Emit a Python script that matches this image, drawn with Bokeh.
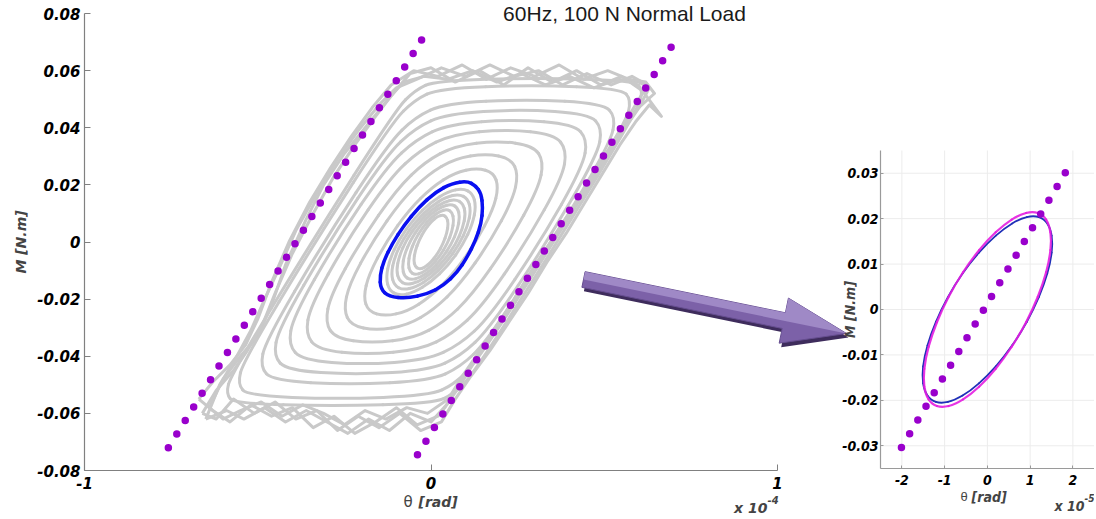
import math
from bokeh.plotting import figure
from bokeh.models import Range1d, FixedTicker, Label, LinearAxis
from bokeh.embed import file_html
from bokeh.resources import INLINE

# ---------------- data (main plot: theta in units of 1e-4 rad, M in N.m) ----------------
main_xticks = [-1, 0, 1]
main_xlabels = ["-1", "0", "1"]
main_yticks = [-0.08, -0.06, -0.04, -0.02, 0.0, 0.02, 0.04, 0.06, 0.08]
main_ylabels = ["-0.08", "-0.06", "-0.04", "-0.02", "0", "0.02", "0.04", "0.06", "0.08"]

loop01_x = [0.050, 0.046, 0.035, 0.019, 0.000, -0.019, -0.035, -0.046, -0.050, -0.046, -0.035, -0.019, 0.000, 0.019, 0.035, 0.046, 0.050]
loop01_y = [0.0064, 0.0086, 0.0095, 0.0090, 0.0071, 0.0041, 0.0005, -0.0032, -0.0064, -0.0086, -0.0095, -0.0090, -0.0071, -0.0041, -0.0005, 0.0032, 0.0064]
loop02_x = [0.066, 0.061, 0.047, 0.025, 0.000, -0.025, -0.047, -0.061, -0.066, -0.061, -0.047, -0.025, 0.000, 0.025, 0.047, 0.061, 0.066]
loop02_y = [0.0077, 0.0104, 0.0115, 0.0108, 0.0085, 0.0050, 0.0006, -0.0038, -0.0077, -0.0104, -0.0115, -0.0108, -0.0085, -0.0050, -0.0006, 0.0038, 0.0077]
loop03_x = [0.083, 0.077, 0.059, 0.032, 0.000, -0.032, -0.059, -0.077, -0.083, -0.077, -0.059, -0.032, 0.000, 0.032, 0.059, 0.077, 0.083]
loop03_y = [0.0089, 0.0120, 0.0133, 0.0125, 0.0099, 0.0057, 0.0007, -0.0044, -0.0089, -0.0120, -0.0133, -0.0125, -0.0099, -0.0057, -0.0007, 0.0044, 0.0089]
loop04_x = [0.100, 0.092, 0.071, 0.038, 0.000, -0.038, -0.071, -0.092, -0.100, -0.092, -0.071, -0.038, 0.000, 0.038, 0.071, 0.092, 0.100]
loop04_y = [0.0100, 0.0135, 0.0150, 0.0141, 0.0111, 0.0065, 0.0008, -0.0050, -0.0100, -0.0135, -0.0150, -0.0141, -0.0111, -0.0065, -0.0008, 0.0050, 0.0100]
loop05_x = [0.115, 0.106, 0.081, 0.044, 0.000, -0.044, -0.081, -0.106, -0.115, -0.106, -0.081, -0.044, 0.000, 0.044, 0.081, 0.106, 0.115]
loop05_y = [0.0112, 0.0152, 0.0168, 0.0158, 0.0125, 0.0072, 0.0009, -0.0056, -0.0112, -0.0152, -0.0168, -0.0158, -0.0125, -0.0072, -0.0009, 0.0056, 0.0112]
loop06_x = [0.130, 0.120, 0.092, 0.050, 0.000, -0.050, -0.092, -0.120, -0.130, -0.120, -0.092, -0.050, 0.000, 0.050, 0.092, 0.120, 0.130]
loop06_y = [0.0126, 0.0170, 0.0188, 0.0177, 0.0140, 0.0081, 0.0010, -0.0063, -0.0126, -0.0170, -0.0188, -0.0177, -0.0140, -0.0081, -0.0010, 0.0063, 0.0126]
loop07_x = [0.130, 0.1793, 0.1949, 0.1809, 0.1333, 0.0681, 0.0025, -0.0635, -0.130, -0.1793, -0.1949, -0.1809, -0.1333, -0.0681, -0.0025, 0.0635, 0.130]
loop07_y = [0.0, 0.0113, 0.0192, 0.0243, 0.0260, 0.0243, 0.0192, 0.0113, 0.0, -0.0113, -0.0192, -0.0243, -0.0260, -0.0243, -0.0192, -0.0113, 0.0]
loop08_x = [0.170, 0.2360, 0.2520, 0.2309, 0.159, 0.0683, -0.0084, -0.0840, -0.170, -0.2360, -0.2520, -0.2309, -0.159, -0.0683, 0.0084, 0.0840, 0.170]
loop08_y = [0.0, 0.0148, 0.0237, 0.0292, 0.0310, 0.0292, 0.0237, 0.0148, 0.0, -0.0148, -0.0237, -0.0292, -0.0310, -0.0292, -0.0237, -0.0148, 0.0]
loop09_x = [0.225, 0.3100, 0.3253, 0.2961, 0.1921, 0.0695, -0.0161, -0.0980, -0.205, -0.2900, -0.3053, -0.2761, -0.1721, -0.0495, 0.0361, 0.1180, 0.225]
loop09_y = [0.0, 0.0187, 0.0282, 0.0337, 0.0355, 0.0337, 0.0282, 0.0187, 0.0, -0.0187, -0.0282, -0.0337, -0.0355, -0.0337, -0.0282, -0.0187, 0.0]
loop10_x = [0.275, 0.3786, 0.3920, 0.3564, 0.2176, 0.0606, -0.0318, -0.1180, -0.245, -0.3486, -0.3620, -0.3264, -0.1876, -0.0306, 0.0618, 0.1480, 0.275]
loop10_y = [0.0, 0.0225, 0.0322, 0.0377, 0.0395, 0.0377, 0.0322, 0.0225, 0.0, -0.0225, -0.0322, -0.0377, -0.0395, -0.0377, -0.0322, -0.0225, 0.0]
loop11_x = [0.315, 0.4379, 0.4515, 0.4119, 0.2405, 0.0515, -0.0423, -0.1285, -0.275, -0.3979, -0.4115, -0.3719, -0.2005, -0.0115, 0.0823, 0.1685, 0.315]
loop11_y = [0.0, 0.0263, 0.0360, 0.0413, 0.0430, 0.0413, 0.0360, 0.0263, 0.0, -0.0263, -0.0360, -0.0413, -0.0430, -0.0413, -0.0360, -0.0263, 0.0]
loop12_x = [0.335, 0.4800, 0.4944, 0.4561, 0.2585, 0.0447, -0.0456, -0.1286, -0.295, -0.4400, -0.4544, -0.4161, -0.2185, -0.0047, 0.0856, 0.1686, 0.335]
loop12_y = [0.0, 0.0304, 0.0399, 0.0449, 0.0465, 0.0449, 0.0399, 0.0304, 0.0, -0.0304, -0.0399, -0.0449, -0.0465, -0.0449, -0.0399, -0.0304, 0.0]
loop13_x = [0.350, 0.5173, 0.5332, 0.4967, 0.2764, 0.0407, -0.0444, -0.1229, -0.310, -0.4773, -0.4932, -0.4567, -0.2364, -0.0007, 0.0844, 0.1629, 0.350]
loop13_y = [0.0, 0.0346, 0.0438, 0.0485, 0.0500, 0.0485, 0.0438, 0.0346, 0.0, -0.0346, -0.0438, -0.0485, -0.0500, -0.0485, -0.0438, -0.0346, 0.0]
loop14_x = [0.355, 0.5618, 0.5782, 0.5481, 0.2921, 0.0237, -0.0470, -0.1130, -0.335, -0.5418, -0.5582, -0.5281, -0.2721, -0.0037, 0.0670, 0.1330, 0.355]
loop14_y = [0.0, 0.0418, 0.0498, 0.0538, 0.0550, 0.0538, 0.0498, 0.0418, 0.0, -0.0418, -0.0498, -0.0538, -0.0550, -0.0538, -0.0498, -0.0418, 0.0]
loop15_x = [0.365, 0.5973, 0.6118, 0.5867, 0.3049, 0.0131, -0.0456, -0.1007, -0.345, -0.5773, -0.5918, -0.5667, -0.2849, 0.0069, 0.0656, 0.1207, 0.365]
loop15_y = [0.0, 0.0465, 0.0532, 0.0565, 0.0575, 0.0565, 0.0532, 0.0465, 0.0, -0.0465, -0.0532, -0.0565, -0.0575, -0.0565, -0.0532, -0.0465, 0.0]
band_a_x = [-0.64, -0.60, -0.55, -0.50, -0.46, -0.42, -0.36, -0.31, -0.25, -0.19, -0.13, -0.08, -0.02, 0.05, 0.12, 0.19, 0.26, 0.33, 0.40, 0.47, 0.54, 0.60, 0.63, 0.60, 0.56, 0.51, 0.46, 0.40, 0.345, 0.29, 0.24, 0.185, 0.13, 0.09, 0.05, -0.01, -0.07, -0.13, -0.19, -0.25, -0.31, -0.37, -0.43, -0.49, -0.55, -0.60, -0.64]
band_a_y = [-0.058, -0.048, -0.040, -0.033, -0.022, -0.008, 0.008, 0.020, 0.031, 0.040, 0.049, 0.056, 0.058, 0.057, 0.060, 0.056, 0.059, 0.055, 0.058, 0.054, 0.057, 0.056, 0.054, 0.047, 0.040, 0.030, 0.020, 0.010, 0.000, -0.010, -0.020, -0.030, -0.040, -0.047, -0.055, -0.060, -0.058, -0.062, -0.059, -0.064, -0.060, -0.057, -0.061, -0.056, -0.059, -0.062, -0.058]
band_b_x = [-0.66, -0.62, -0.57, -0.53, -0.49, -0.45, -0.40, -0.34, -0.28, -0.22, -0.16, -0.11, -0.06, 0.00, 0.07, 0.14, 0.21, 0.28, 0.35, 0.42, 0.49, 0.55, 0.61, 0.665, 0.63, 0.59, 0.545, 0.50, 0.445, 0.39, 0.335, 0.28, 0.225, 0.17, 0.115, 0.07, 0.03, -0.03, -0.09, -0.15, -0.21, -0.27, -0.33, -0.39, -0.45, -0.51, -0.57, -0.62, -0.66]
band_b_y = [-0.060, -0.052, -0.045, -0.038, -0.030, -0.018, -0.004, 0.010, 0.023, 0.034, 0.044, 0.052, 0.059, 0.061, 0.056, 0.060, 0.055, 0.061, 0.056, 0.060, 0.055, 0.058, 0.053, 0.044, 0.048, 0.042, 0.034, 0.025, 0.014, 0.003, -0.007, -0.018, -0.028, -0.038, -0.047, -0.055, -0.063, -0.066, -0.060, -0.065, -0.061, -0.066, -0.059, -0.062, -0.056, -0.060, -0.055, -0.062, -0.060]
band_c_x = [-0.67, -0.63, -0.58, -0.535, -0.50, -0.46, -0.41, -0.35, -0.29, -0.23, -0.17, -0.115, -0.05, 0.02, 0.09, 0.16, 0.23, 0.30, 0.37, 0.44, 0.51, 0.57, 0.62, 0.645, 0.59, 0.545, 0.495, 0.445, 0.39, 0.335, 0.28, 0.225, 0.17, 0.115, 0.075, 0.04, 0.02, -0.04, -0.10, -0.16, -0.22, -0.28, -0.34, -0.40, -0.46, -0.52, -0.58, -0.63, -0.67]
band_c_y = [-0.055, -0.049, -0.043, -0.036, -0.027, -0.014, 0.000, 0.014, 0.026, 0.037, 0.047, 0.055, 0.060, 0.058, 0.062, 0.057, 0.061, 0.058, 0.062, 0.057, 0.060, 0.057, 0.056, 0.052, 0.046, 0.038, 0.028, 0.018, 0.007, -0.003, -0.013, -0.023, -0.033, -0.043, -0.051, -0.058, -0.061, -0.064, -0.058, -0.063, -0.067, -0.061, -0.065, -0.058, -0.061, -0.057, -0.063, -0.059, -0.055]
band_d_x = [-0.65, -0.61, -0.565, -0.52, -0.48, -0.445, -0.39, -0.33, -0.27, -0.21, -0.15, -0.10, -0.04, 0.03, 0.10, 0.17, 0.24, 0.31, 0.38, 0.45, 0.52, 0.58, 0.625, 0.60, 0.565, 0.52, 0.47, 0.415, 0.36, 0.305, 0.25, 0.195, 0.14, 0.085, 0.045, 0.00, -0.06, -0.12, -0.18, -0.24, -0.30, -0.36, -0.42, -0.48, -0.54, -0.59, -0.65]
band_d_y = [-0.062, -0.050, -0.041, -0.031, -0.020, -0.011, 0.004, 0.017, 0.029, 0.039, 0.048, 0.054, 0.057, 0.061, 0.058, 0.062, 0.058, 0.060, 0.055, 0.059, 0.055, 0.058, 0.055, 0.050, 0.043, 0.034, 0.024, 0.013, 0.003, -0.008, -0.018, -0.029, -0.039, -0.050, -0.057, -0.063, -0.060, -0.066, -0.062, -0.067, -0.063, -0.059, -0.063, -0.058, -0.062, -0.059, -0.062]

blue_x = [0.1045, 0.1284, 0.1449, 0.1495, 0.1449, 0.1284, 0.1045, 0.0756, 0.0371, -0.0108, -0.0685, -0.1216, -0.1455, -0.1475, -0.1360, -0.1120, -0.0785, -0.0352, 0.0130, 0.0612, 0.1045]
blue_y = [0.0213, 0.0198, 0.0169, 0.0122, 0.0064, 0.0005, -0.0053, -0.0106, -0.0152, -0.0182, -0.0197, -0.0191, -0.0164, -0.0117, -0.0065, -0.0006, 0.0058, 0.0122, 0.0175, 0.0206, 0.0213]

dots_left_x = [-0.758, -0.025]
dots_left_y = [-0.072, 0.0712]
dots_right_x = [-0.039, 0.695]
dots_right_y = [-0.0745, 0.0686]

# ---------------- data (inset: theta in units of 1e-5 rad) ----------------
inset_xticks = [-2, -1, 0, 1, 2]
inset_xlabels = ["-2", "-1", "0", "1", "2"]
inset_yticks = [-0.03, -0.02, -0.01, 0.0, 0.01, 0.02, 0.03]
inset_ylabels = ["-0.03", "-0.02", "-0.01", "0", "0.01", "0.02", "0.03"]
meas_x = [1.530, 1.478, 1.325, 1.082, 0.765, 0.396, 0.0, -0.396, -0.765, -1.082, -1.325, -1.478, -1.530, -1.478, -1.325, -1.082, -0.765, -0.396, 0.0, 0.396, 0.765, 1.082, 1.325, 1.478, 1.530]
meas_y = [0.0146, 0.0179, 0.0200, 0.0207, 0.0200, 0.0179, 0.0146, 0.0104, 0.0054, 0.0, -0.0054, -0.0104, -0.0146, -0.0179, -0.0200, -0.0207, -0.0200, -0.0179, -0.0146, -0.0104, -0.0054, 0.0, 0.0054, 0.0104, 0.0146]
fit_x = [1.500, 1.449, 1.299, 1.061, 0.750, 0.388, 0.0, -0.388, -0.750, -1.061, -1.299, -1.449, -1.500, -1.449, -1.299, -1.061, -0.750, -0.388, 0.0, 0.388, 0.750, 1.061, 1.299, 1.449, 1.500]
fit_y = [0.0153, 0.0187, 0.0209, 0.0216, 0.0209, 0.0187, 0.0153, 0.0108, 0.0056, 0.0, -0.0056, -0.0108, -0.0153, -0.0187, -0.0209, -0.0216, -0.0209, -0.0187, -0.0153, -0.0108, -0.0056, 0.0, 0.0056, 0.0108, 0.0153]
inset_dots_x = [-2.01, 1.86]
inset_dots_y = [-0.0304, 0.0307]

smooth_loops = [
    (loop01_x, loop01_y), (loop02_x, loop02_y), (loop03_x, loop03_y), (loop04_x, loop04_y),
    (loop05_x, loop05_y), (loop06_x, loop06_y), (loop07_x, loop07_y), (loop08_x, loop08_y),
    (loop09_x, loop09_y), (loop10_x, loop10_y), (loop11_x, loop11_y), (loop12_x, loop12_y),
    (loop13_x, loop13_y), (loop14_x, loop14_y), (loop15_x, loop15_y),
]
band_loops = [(band_a_x, band_a_y), (band_b_x, band_b_y), (band_c_x, band_c_y), (band_d_x, band_d_y)]

# ---------------- styles / layout ----------------
GRAY = "#c9c9c9"
BLUE = "#0a10f0"
PURPLE = "#9900cc"
BOLD_FONT = "DejaVu Sans"
NARROW_FONT = "DejaVu Sans Condensed, Liberation Sans"
W, H = 1094, 517                      # the canvas is the frame; page body has no margin
SX, SY = 346.5, 2856.0                # main plot px per unit
XR0 = -1.0 - 84 / SX
YR0 = -0.08 - (H - 470) / SY
XR = (XR0, XR0 + W / SX)
YR = (YR0, YR0 + H / SY)
ISX, ISY = 42.75, 4542.9              # inset px per unit
IX0 = -2.5 - 880 / ISX
IY0 = -0.035 - (H - 468) / ISY
IXR = (IX0, IX0 + W / ISX)
IYR = (IY0, IY0 + H / ISY)

p = figure(width=W, height=H, x_range=Range1d(*XR), y_range=Range1d(*YR),
           x_axis_type=None, y_axis_type=None, output_backend="svg", toolbar_location=None,
           min_border_left=0, min_border_right=0, min_border_top=0, min_border_bottom=0)
p.extra_x_ranges = {"ix": Range1d(*IXR)}
p.extra_y_ranges = {"iy": Range1d(*IYR)}
p.outline_line_color = None
p.background_fill_color = "white"
p.border_fill_color = "white"


def style_axis(ax, ticks, labels, font, size, color, tick_in):
    ax.ticker = FixedTicker(ticks=ticks)
    ax.major_label_overrides = {t: l for t, l in zip(ticks, labels)}
    ax.axis_line_color = color
    ax.axis_line_width = 1.2
    ax.major_tick_line_color = color
    ax.major_tick_in = tick_in
    ax.major_tick_out = 0
    ax.minor_tick_line_color = None
    ax.major_label_text_font = font
    ax.major_label_text_font_style = "bold italic"
    ax.major_label_text_font_size = size
    ax.major_label_text_color = "black"


def smooth_segments(xs, ys):
    """Closed loop drawn as quadratic curves, using the loop's points as control points."""
    pts = list(zip(xs[:-1], ys[:-1]))
    n = len(pts)
    seg = {k: [] for k in ("x0", "y0", "x1", "y1", "cx", "cy")}
    for i in range(n):
        (ax_, ay), (px_, py_), (bx, by) = pts[i - 1], pts[i], pts[(i + 1) % n]
        seg["x0"].append((ax_ + px_) / 2)
        seg["y0"].append((ay + py_) / 2)
        seg["x1"].append((px_ + bx) / 2)
        seg["y1"].append((py_ + by) / 2)
        seg["cx"].append(px_)
        seg["cy"].append(py_)
    return seg


def merge(segs):
    out = {k: [] for k in ("x0", "y0", "x1", "y1", "cx", "cy")}
    for s in segs:
        for k in out:
            out[k].extend(s[k])
    return out


# main axes
mx = LinearAxis(fixed_location=-0.08, bounds=(-1, 1))
style_axis(mx, main_xticks, main_xlabels, BOLD_FONT, "15px", "#808080", 6)
mx.major_label_standoff = 6
p.add_layout(mx, "below")
my = LinearAxis(fixed_location=-1, bounds=(-0.08, 0.08))
style_axis(my, main_yticks, main_ylabels, BOLD_FONT, "15px", "#808080", 6)
my.major_label_standoff = 4
p.add_layout(my, "left")

# inset grid + axes
p.segment(x0=inset_xticks, y0=[-0.035] * len(inset_xticks), x1=inset_xticks, y1=[0.035] * len(inset_xticks),
          line_color="#ececec", line_width=1, x_range_name="ix", y_range_name="iy")
p.segment(x0=[-2.5] * len(inset_yticks), y0=inset_yticks, x1=[2.5] * len(inset_yticks), y1=inset_yticks,
          line_color="#ececec", line_width=1, x_range_name="ix", y_range_name="iy")
ixa = LinearAxis(x_range_name="ix", y_range_name="iy", fixed_location=-0.035, bounds=(-2.5, 2.5))
style_axis(ixa, inset_xticks, inset_xlabels, NARROW_FONT, "14px", "#9a9a9a", 3)
ixa.major_label_standoff = 6
p.add_layout(ixa, "below")
iya = LinearAxis(x_range_name="ix", y_range_name="iy", fixed_location=-2.5, bounds=(-0.035, 0.035))
style_axis(iya, inset_yticks, inset_ylabels, NARROW_FONT, "14px", "#9a9a9a", 3)
iya.major_label_standoff = 2
p.add_layout(iya, "left")

# main glyphs
p.multi_line(xs=[b[0] for b in band_loops], ys=[b[1] for b in band_loops],
             line_color=GRAY, line_width=3, line_join="round")
p.quadratic(line_color=GRAY, line_width=3, line_cap="round",
            **merge([smooth_segments(x, y) for x, y in smooth_loops]))
p.quadratic(line_color=BLUE, line_width=3.5, line_cap="round", **smooth_segments(blue_x, blue_y))
p.line(dots_left_x, dots_left_y, line_color=PURPLE, line_width=7.5, line_dash="0 16", line_cap="round")
p.line(dots_right_x, dots_right_y, line_color=PURPLE, line_width=7.5, line_dash="0 16", line_cap="round")

# inset glyphs
p.quadratic(line_color="#2030b8", line_width=1.8, line_cap="round", x_range_name="ix", y_range_name="iy",
            **smooth_segments(meas_x, meas_y))
p.quadratic(line_color="#e41ee0", line_width=2.2, line_alpha=0.9, line_cap="round", x_range_name="ix",
            y_range_name="iy", **smooth_segments(fit_x, fit_y))
p.line(inset_dots_x, inset_dots_y, line_color=PURPLE, line_width=7.5, line_dash="0 16", line_cap="round",
       x_range_name="ix", y_range_name="iy")


# decorative block arrow (page-pixel geometry converted to the main plot's data space)
def to_data(pt):
    return (XR[0] + pt[0] / SX, YR[0] + (H - pt[1]) / SY)


tail, tip = (583.0, 279.0), (846.0, 333.0)
L = math.hypot(tip[0] - tail[0], tip[1] - tail[1])
ux, uy = (tip[0] - tail[0]) / L, (tip[1] - tail[1]) / L
nx, ny = -uy, ux
sh, hh, hl = 8.0, 23.0, 64.0
base = (tip[0] - ux * hl, tip[1] - uy * hl)


def off(pt, k):
    return (pt[0] + nx * k, pt[1] + ny * k)


arrow_pts = [off(tail, -sh), off(base, -sh), off(base, -hh), tip, off(base, hh), off(base, sh), off(tail, sh)]
upper_pts = [off(tail, -sh), off(base, -sh), off(base, -hh), tip, base, tail]
shadow_pts = [(x + 2, y + 4) for x, y in arrow_pts]
for pts, fill, line in ((shadow_pts, "#3e2c5c", None), (arrow_pts, "#7c61a8", "#664e90"),
                        (upper_pts, "#9f89c6", None)):
    d = [to_data(pt) for pt in pts]
    p.patch([a for a, b in d], [b for a, b in d], fill_color=fill, line_color=line, line_width=1)


# texts (positions given as page pixels, converted to data)
def main_label(px, py, text, **kw):
    x, y = to_data((px, py))
    p.add_layout(Label(x=x, y=y, text=text, **kw))


def inset_label(px, py, text, **kw):
    x = IXR[0] + px / ISX
    y = IYR[0] + (H - py) / ISY
    p.add_layout(Label(x=x, y=y, text=text, x_range_name="ix", y_range_name="iy", **kw))


bi = dict(text_font_style="bold italic")
main_label(624, 12.5, "60Hz, 100 N Normal Load", text_align="center", text_baseline="middle",
           text_font="Liberation Sans", text_font_size="21px", text_color="#1a1a1a")
main_label(20, 241.5, "M [N.m]", angle=math.pi / 2, text_align="center", text_baseline="middle",
           text_font=BOLD_FONT, text_font_size="14px", **bi)
main_label(407.5, 501, "θ", text_align="center", text_baseline="middle", text_font="DejaVu Sans",
           text_font_size="15px")
main_label(418, 501, "[rad]", text_align="left", text_baseline="middle", text_font=BOLD_FONT,
           text_font_size="14px", **bi)
main_label(767, 507, "x 10", text_align="right", text_baseline="middle", text_font=BOLD_FONT,
           text_font_size="14px", **bi)
main_label(767, 499.5, "-4", text_align="left", text_baseline="middle", text_font=BOLD_FONT,
           text_font_size="10px", **bi)

inset_label(849, 309, "M [N.m]", angle=math.pi / 2, text_align="center", text_baseline="middle",
            text_font=NARROW_FONT, text_font_size="14px", **bi)
inset_label(963.5, 496, "θ", text_align="center", text_baseline="middle", text_font="Liberation Sans",
            text_font_size="13px")
inset_label(971, 496, "[rad]", text_align="left", text_baseline="middle", text_font=NARROW_FONT,
            text_font_size="14px", **bi)
inset_label(1084, 505, "x 10", text_align="right", text_baseline="middle", text_font=NARROW_FONT,
            text_font_size="14px", **bi)
inset_label(1084, 497.5, "-5", text_align="left", text_baseline="middle", text_font=NARROW_FONT,
            text_font_size="10px", **bi)

open("out.html", "w").write(file_html(p, INLINE, "chart"))
